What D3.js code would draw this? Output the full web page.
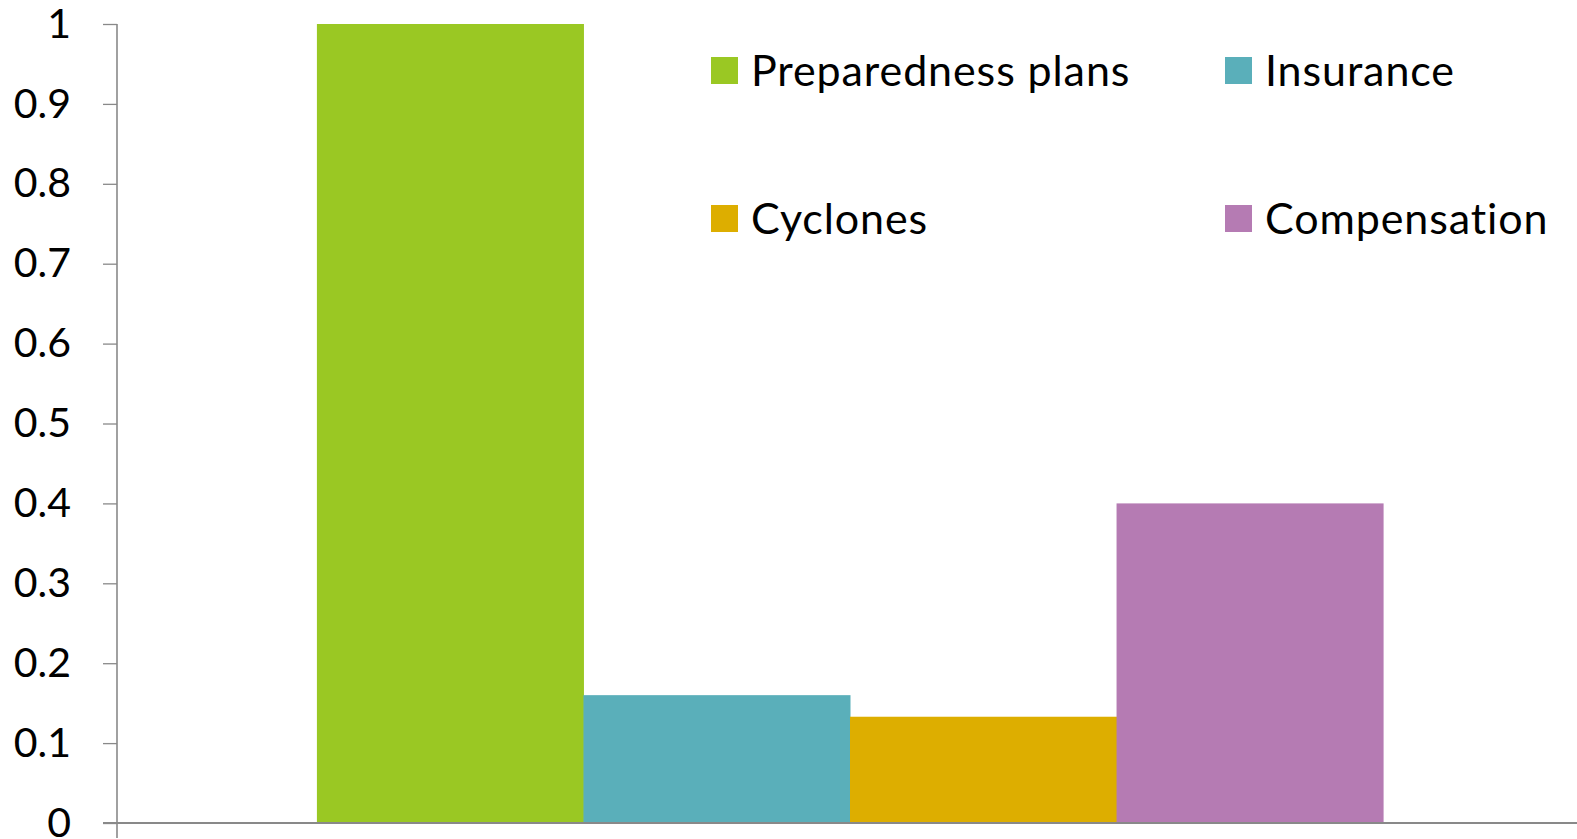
<!DOCTYPE html>
<html lang="en">
<head>
    <meta charset="UTF-8">
    <title>Risk measures chart</title>
    <script src="https://d3js.org/d3.v7.min.js"></script>
    <style>
        body { margin: 0; background: #fff; }
        svg { display: block; }
        .tick-label, .legend-label {
            font-family: Lato, "Open Sans", sans-serif;
            fill: #000;
        }
        .tick-label { font-size: 41px; }
        .legend-label { font-size: 43px; letter-spacing: 0.9px; }
    </style>
</head>
<body>
    <svg width="1577" height="839"></svg>

    <script>
        // Chart data
        const categories = [""];
        const seriesNames = ["Preparedness plans", "Insurance", "Cyclones", "Compensation"];
        const seriesValues = [1.0, 0.16, 0.133, 0.40];
        const seriesColors = ["#9ac823", "#5aafba", "#ddae00", "#b57bb3"];
        const yTicks = [0, 0.1, 0.2, 0.3, 0.4, 0.5, 0.6, 0.7, 0.8, 0.9, 1];
        const yTickLabels = ["0", "0.1", "0.2", "0.3", "0.4", "0.5", "0.6", "0.7", "0.8", "0.9", "1"];

        // Dimensions
        const margin = { top: 24, right: 0, bottom: 16, left: 117 };
        const width = 1577 - margin.left - margin.right;
        const height = 839 - margin.top - margin.bottom;

        const svg = d3.select("svg")
            .append("g")
            .attr("transform", `translate(${margin.left},${margin.top})`);

        // Outer scale for the single category, inner scale for series
        const x0 = d3.scaleBand()
            .domain(categories)
            .range([0, width + 6])
            .paddingOuter(0.1875);

        const x1 = d3.scaleBand()
            .domain(seriesNames)
            .range([0, x0.bandwidth()])
            .padding(0);

        const y = d3.scaleLinear()
            .domain([0, 1])
            .range([height, 0]);

        // Bars
        const bars = seriesNames.map((name, i) => ({ name, value: seriesValues[i], color: seriesColors[i] }));
        svg.selectAll(".bar")
            .data(bars)
            .enter().append("rect")
            .attr("class", "bar")
            .attr("x", d => x0(categories[0]) + x1(d.name))
            .attr("y", d => y(d.value))
            .attr("width", x1.bandwidth() + 0.5)
            .attr("height", d => height - y(d.value))
            .attr("fill", d => d.color);

        // Y axis
        const yAxis = svg.append("g")
            .call(d3.axisLeft(y)
                .tickValues(yTicks)
                .tickFormat((d, i) => yTickLabels[i])
                .tickSize(14)
                .tickSizeOuter(0)
                .tickPadding(32));
        yAxis.select(".domain").remove();
        yAxis.selectAll(".tick line").attr("stroke", "#898989").attr("stroke-width", 1.3);
        yAxis.selectAll(".tick text")
            .attr("class", "tick-label")
            .attr("font-size", null)
            .attr("font-family", null);
        yAxis.attr("font-size", null).attr("font-family", null);

        // X axis line
        svg.append("line")
            .attr("x1", -14).attr("x2", width)
            .attr("y1", y(0)).attr("y2", y(0))
            .attr("stroke", "#898989")
            .attr("stroke-width", 2);

        // Vertical axis line, running past the baseline like a category tick
        svg.append("line")
            .attr("x1", 0).attr("x2", 0)
            .attr("y1", y(1)).attr("y2", height + 15)
            .attr("stroke", "#898989")
            .attr("stroke-width", 1.6);

        // Legend
        const legendCols = [594, 1108];
        const legendRows = [33, 181];
        const legend = svg.selectAll(".legend")
            .data(bars)
            .enter().append("g")
            .attr("class", "legend")
            .attr("transform", (d, i) => `translate(${legendCols[i % 2]},${legendRows[Math.floor(i / 2)]})`);

        legend.append("rect")
            .attr("width", 27)
            .attr("height", 27)
            .attr("fill", d => d.color);

        legend.append("text")
            .attr("class", "legend-label")
            .attr("x", 40)
            .attr("y", 13.5)
            .attr("dy", "0.36em")
            .text(d => d.name);
    </script>
</body>
</html>
